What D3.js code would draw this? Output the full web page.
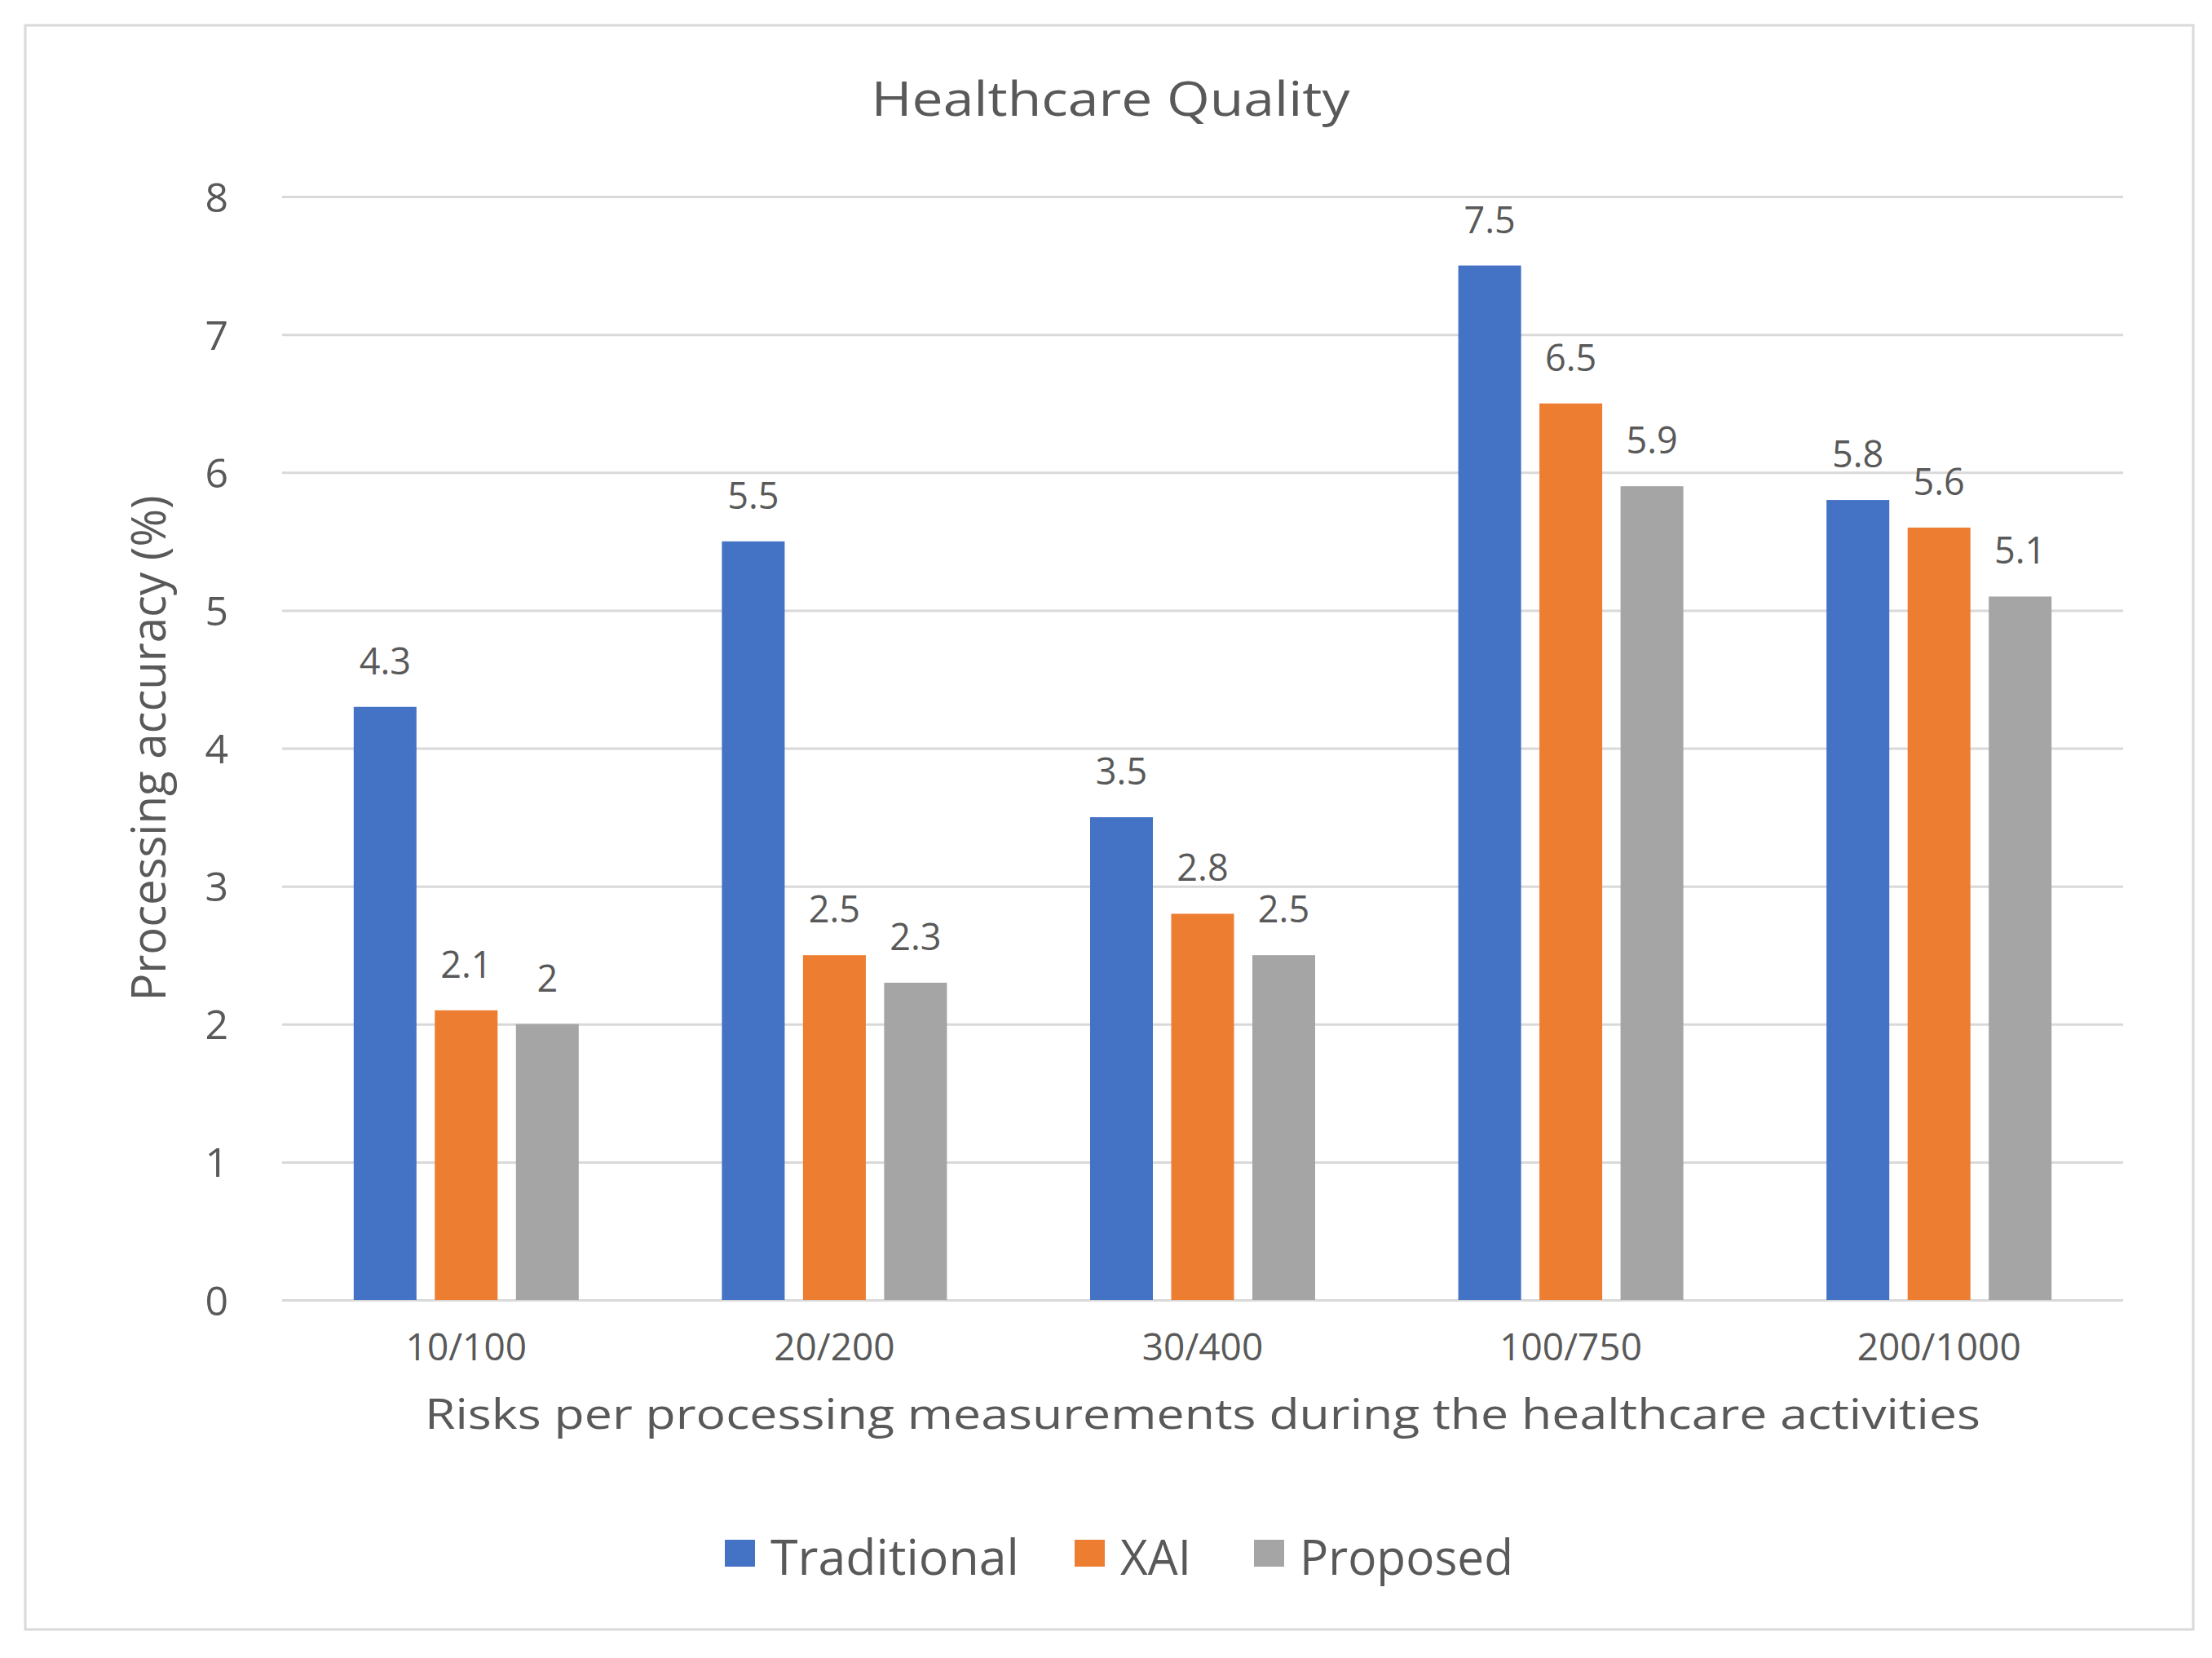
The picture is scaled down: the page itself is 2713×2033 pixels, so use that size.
<!DOCTYPE html>
<html>
<head>
<meta charset="utf-8">
<script src="https://cdn.jsdelivr.net/npm/d3@7"></script>
<style>
  html, body { margin: 0; padding: 0; background: #fff; }
  svg { display: block; }
</style>
</head>
<body>
<script>
// ---- data ----
const categories = ["10/100", "20/200", "30/400", "100/750", "200/1000"];
const seriesNames = ["Traditional", "XAI", "Proposed"];
const traditional = [4.3, 5.5, 3.5, 7.5, 5.8];
const xai = [2.1, 2.5, 2.8, 6.5, 5.6];
const proposed = [2, 2.3, 2.5, 5.9, 5.1];
const yTicks = [0, 1, 2, 3, 4, 5, 6, 7, 8];
const chartTitle = "Healthcare Quality";
const xTitle = "Risks per processing measurements during the healthcare activities";
const yTitle = "Processing accuracy (%)";

const seriesValues = [traditional, xai, proposed];
const colors = ["#4472C4", "#ED7D31", "#A5A5A5"];
const textColor = "#595959";
const gridColor = "#D9D9D9";
const font = "'Open Sans', 'DejaVu Sans', sans-serif";

const W = 2713, H = 2033;
const plot = { left: 346, right: 2604, top: 241, bottom: 1594 };

const svg = d3.select("body").append("svg")
  .attr("width", W).attr("height", H)
  .attr("viewBox", `0 0 ${W} ${H}`);

svg.append("rect").attr("width", W).attr("height", H).attr("fill", "#fff");

// chart border
svg.append("rect")
  .attr("x", 31).attr("y", 31)
  .attr("width", 2690 - 31).attr("height", 1998 - 31)
  .attr("fill", "none").attr("stroke", gridColor).attr("stroke-width", 3);

// scales
const x = d3.scaleBand().domain(categories).range([plot.left, plot.right]).padding(0);
const clusterW = 298.5;
const xInner = d3.scaleBand().domain(seriesNames).range([0, clusterW])
  .paddingInner(0.226).paddingOuter(0.113);
const y = d3.scaleLinear().domain([0, 8]).range([plot.bottom, plot.top]);

// gridlines + y tick labels via axis
const yAxis = d3.axisLeft(y).tickValues(yTicks).tickSize(-(plot.right - plot.left)).tickPadding(66).tickFormat(d3.format("d"));
const gy = svg.append("g").attr("transform", `translate(${plot.left},0)`).call(yAxis);
gy.select(".domain").remove();
gy.selectAll(".tick line").attr("stroke", gridColor).attr("stroke-width", 3);
gy.selectAll(".tick text")
  .attr("fill", textColor)
  .attr("font-family", font)
  .attr("font-size", 50)
  .attr("dy", "0.36em");

// bars
const groups = svg.append("g").selectAll("g")
  .data(categories)
  .join("g")
  .attr("transform", d => `translate(${x(d) + x.bandwidth() / 2 - clusterW / 2},0)`);

groups.each(function (cat, ci) {
  const g = d3.select(this);
  seriesNames.forEach((s, si) => {
    const v = seriesValues[si][ci];
    g.append("rect")
      .attr("x", xInner(s))
      .attr("y", y(v))
      .attr("width", xInner.bandwidth())
      .attr("height", y(0) - y(v))
      .attr("fill", colors[si]);
    g.append("text")
      .attr("x", xInner(s) + xInner.bandwidth() / 2)
      .attr("y", y(v) - 40)
      .attr("text-anchor", "middle")
      .attr("fill", textColor)
      .attr("font-family", font)
      .attr("font-size", 45)
      .text(String(v));
  });
});

// x axis category labels
const xAxis = d3.axisBottom(x).tickSize(0).tickPadding(0);
const gx = svg.append("g").attr("transform", `translate(0,${plot.bottom})`).call(xAxis);
gx.select(".domain").remove();
gx.selectAll(".tick text")
  .attr("fill", textColor)
  .attr("font-family", font)
  .attr("font-size", 46)
  .attr("dy", null)
  .attr("y", 1668 - plot.bottom);

// title
svg.append("text")
  .attr("x", (plot.left + plot.right) / 2 - 113)
  .attr("y", 142)
  .attr("text-anchor", "middle")
  .attr("fill", textColor)
  .attr("font-family", font)
  .attr("font-size", 59)
  .attr("textLength", 587)
  .attr("lengthAdjust", "spacingAndGlyphs")
  .text(chartTitle);

// x title
svg.append("text")
  .attr("x", (plot.left + plot.right) / 2)
  .attr("y", 1752)
  .attr("text-anchor", "middle")
  .attr("fill", textColor)
  .attr("font-family", font)
  .attr("font-size", 52)
  .attr("textLength", 1908)
  .attr("lengthAdjust", "spacingAndGlyphs")
  .text(xTitle);

// y title
svg.append("text")
  .attr("transform", `translate(203,${(plot.top + plot.bottom) / 2}) rotate(-90)`)
  .attr("text-anchor", "middle")
  .attr("fill", textColor)
  .attr("font-family", font)
  .attr("font-size", 58)
  .attr("textLength", 620)
  .attr("lengthAdjust", "spacingAndGlyphs")
  .text(yTitle);

// legend
const legendX = [889, 1318, 1538];
const legendW = [305, 87, 262];
const legend = svg.append("g");
seriesNames.forEach((s, i) => {
  legend.append("rect")
    .attr("x", legendX[i]).attr("y", 1888)
    .attr("width", 37).attr("height", 33)
    .attr("fill", colors[i]);
  legend.append("text")
    .attr("x", legendX[i] + 56)
    .attr("y", 1931)
    .attr("fill", textColor)
    .attr("font-family", font)
    .attr("font-size", 60)
    .attr("textLength", legendW[i])
    .attr("lengthAdjust", "spacingAndGlyphs")
    .text(s);
});
</script>
</body>
</html>
